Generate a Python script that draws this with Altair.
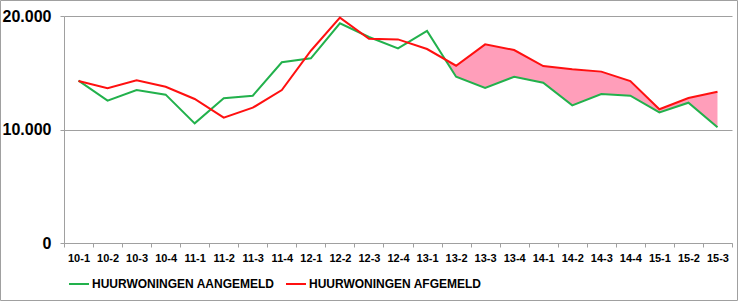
import json
import altair as alt
import pandas as pd

categories = ["10-1", "10-2", "10-3", "10-4", "11-1", "11-2", "11-3", "11-4",
              "12-1", "12-2", "12-3", "12-4", "13-1", "13-2", "13-3", "13-4",
              "14-1", "14-2", "14-3", "14-4", "15-1", "15-2", "15-3"]
aangemeld = [14300, 12540, 13480, 13070, 10540, 12750, 12980, 15920, 16270, 19360,
             18150, 17150, 18680, 14650, 13660, 14650, 14120, 12130, 13130, 12980,
             11510, 12360, 10190]
afgemeld = [14280, 13630, 14330, 13770, 12690, 11040, 11920, 13480, 16940, 19850,
            18000, 17940, 17090, 15620, 17500, 17000, 15590, 15300, 15100, 14270,
            11780, 12780, 13330]
series_names = ["HUURWONINGEN AANGEMELD", "HUURWONINGEN AFGEMELD"]
fill_start = 12  # shading from 13-1 onwards

GREEN = "#22B14C"
RED = "#FF1010"
PINK = "#FF9EBA"
GRAY = "#A0A0A0"

W, H = 668, 227
PAD = {"left": 64, "top": 16, "right": 8, "bottom": 59}

rows = []
for name, vals in zip(series_names, [aangemeld, afgemeld]):
    for i, v in enumerate(vals):
        rows.append({"idx": i, "value": v, "serie": name})
lines_df = pd.DataFrame(rows)

# shaded area between lines where afgemeld > aangemeld (crossings derived from data)
fill_rows = []
n = len(categories)
for i in range(fill_start, n):
    g, r = aangemeld[i], afgemeld[i]
    fill_rows.append({"idx": i, "lo": g, "hi": max(g, r)})
    if i < n - 1:
        d0 = r - g
        d1 = afgemeld[i + 1] - aangemeld[i + 1]
        if d0 * d1 < 0:
            t = d0 / (d0 - d1)
            gx = g + t * (aangemeld[i + 1] - g)
            fill_rows.append({"idx": i + t, "lo": gx, "hi": gx})
fill_df = pd.DataFrame(fill_rows)

label_expr = json.dumps(categories) + "[round(datum.value + 0.5)] || ''"

x_scale = alt.Scale(domain=[-0.5, n - 0.5], nice=False, zero=False)
x_axis = alt.Axis(
    values=[i - 0.5 for i in range(n + 1)],
    labelExpr=label_expr,
    labelOffset=W / n / 2,
    labelFlush=False,
    labelOverlap=False,
    labelFont="Liberation Sans",
    labelFontWeight="bold",
    labelFontSize=11,
    labelColor="#000000",
    labelPadding=5,
    tickSize=4,
    tickColor=GRAY,
    domainColor=GRAY,
    grid=False,
    title=None,
)
y_scale = alt.Scale(domain=[0, 20000], nice=False)
y_axis = alt.Axis(
    values=[0, 10000, 20000],
    labelExpr="replace(format(datum.value, ','), ',', '.')",
    labelFont="Liberation Sans",
    labelFontWeight="bold",
    labelFontSize=16,
    labelColor="#000000",
    labelPadding=9,
    tickSize=4,
    tickColor=GRAY,
    domainColor=GRAY,
    grid=True,
    gridColor=GRAY,
    title=None,
)

area = alt.Chart(fill_df).mark_area(color=PINK, opacity=1).encode(
    x=alt.X("idx:Q", scale=x_scale, axis=x_axis),
    y=alt.Y("lo:Q", scale=y_scale, axis=y_axis),
    y2="hi:Q",
)

lines = alt.Chart(lines_df).mark_line(strokeWidth=2).encode(
    x=alt.X("idx:Q", scale=x_scale, axis=x_axis),
    y=alt.Y("value:Q", scale=y_scale, axis=y_axis),
    color=alt.Color(
        "serie:N",
        scale=alt.Scale(domain=series_names, range=[GREEN, RED]),
        legend=alt.Legend(
            title=None,
            orient="none",
            legendX=4,
            legendY=257,
            direction="horizontal",
            symbolType="stroke",
            symbolSize=400,
            symbolStrokeWidth=2,
            labelFont="Liberation Sans",
            labelFontWeight="bold",
            labelFontSize=12,
            labelColor="#000000",
            labelOffset=2,
            labelLimit=0,
            columnPadding=7,
        ),
    ),
    order=alt.Order("idx:Q"),
)

frame = alt.Chart(pd.DataFrame({"k": [0]})).mark_rect(
    fill=None, stroke=GRAY, strokeWidth=1
).encode(
    x=alt.value(-PAD["left"] + 0.5),
    x2=alt.value(W + PAD["right"] - 2.5),
    y=alt.value(-PAD["top"] + 0.5),
    y2=alt.value(H + PAD["bottom"] - 1.5),
)

chart = alt.layer(area, lines, frame).properties(
    width=W,
    height=H,
    padding=PAD,
    autosize=alt.AutoSizeParams(type="none"),
    background="white",
).configure_view(stroke=None)

chart.save("out.html", embed_options={"renderer": "svg", "actions": False})
